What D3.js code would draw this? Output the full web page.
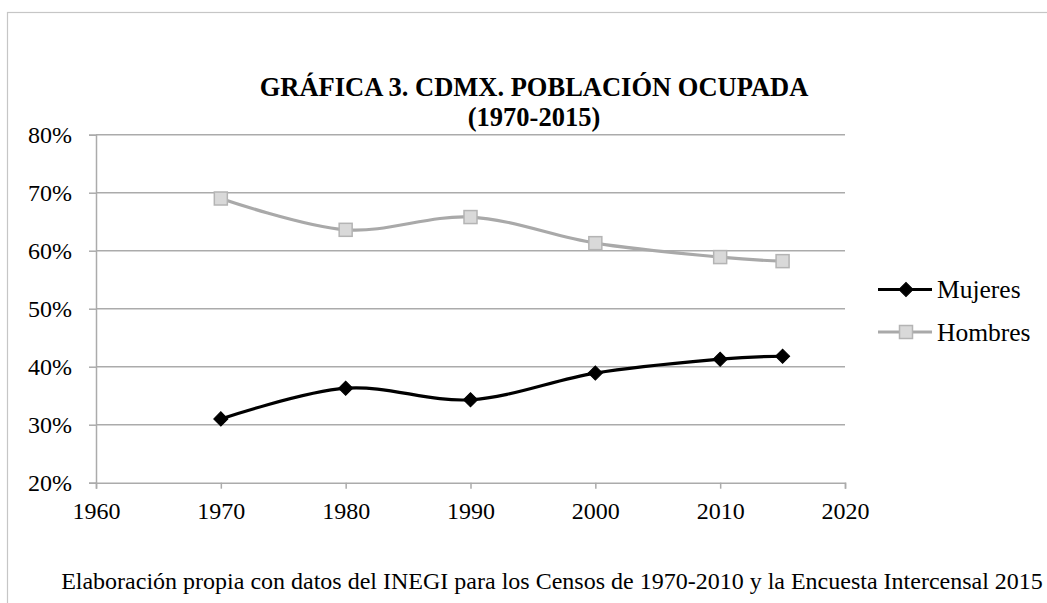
<!DOCTYPE html>
<html>
<head>
<meta charset="utf-8">
<script src="https://cdn.jsdelivr.net/npm/d3@7"></script>
<style>
  body { margin: 0; background: #fff; }
  svg text { font-family: "Liberation Serif", "Times New Roman", serif; fill: #000; }
</style>
</head>
<body>
<div id="chart"></div>
<script>
// data
const years = [1970, 1980, 1990, 2000, 2010, 2015];
const mujeres = [31.0, 36.3, 34.3, 38.9, 41.3, 41.8];
const hombres = [69.0, 63.6, 65.8, 61.3, 58.9, 58.2];
const xTicks = [1960, 1970, 1980, 1990, 2000, 2010, 2020];
const yTicks = [20, 30, 40, 50, 60, 70, 80];
const titleLines = ["GRÁFICA 3. CDMX. POBLACIÓN OCUPADA", "(1970-2015)"];
const seriesNames = ["Mujeres", "Hombres"];
const caption = "Elaboración propia con datos del INEGI para los Censos de 1970-2010 y la Encuesta Intercensal 2015";

let W = 1047, H = 603;
let plot = { left: 96, right: 845, top: 134.7, bottom: 482.7 };
let serif = "'Liberation Serif', 'Times New Roman', serif";

let svg = d3.select("#chart").append("svg")
  .attr("width", W)
  .attr("height", H);

// chart frame (cut off at right and bottom)
svg.append("rect")
  .attr("x", 7.5).attr("y", 12.5)
  .attr("width", W + 20).attr("height", H + 20)
  .attr("fill", "none")
  .attr("stroke", "#c6c6c6")
  .attr("stroke-width", 1.2);

let x = d3.scaleLinear().domain([1960, 2020]).range([plot.left, plot.right]);
let y = d3.scaleLinear().domain([20, 80]).range([plot.bottom, plot.top]);

// title
svg.selectAll(".title")
  .data(titleLines)
  .enter().append("text")
  .attr("class", "title")
  .attr("x", 534)
  .attr("y", function (d, i) { return i === 0 ? 96 : 126; })
  .attr("text-anchor", "middle")
  .style("font-weight", "bold")
  .style("font-size", "26.5px")
  .text(function (d) { return d; });

let g = svg.append("g");

// gridlines
g.selectAll(".grid")
  .data(yTicks.slice(1))
  .enter().append("line")
  .attr("x1", plot.left).attr("x2", plot.right)
  .attr("y1", function (d) { return y(d); })
  .attr("y2", function (d) { return y(d); })
  .attr("stroke", "#ababab")
  .attr("stroke-width", 1.5);

// y axis
let yAxis = g.append("g")
  .attr("transform", "translate(" + plot.left + ",0)")
  .call(d3.axisLeft(y).tickValues(yTicks).tickSize(7).tickPadding(17)
    .tickFormat(function (d) { return d + "%"; }));

// x axis
let xAxis = g.append("g")
  .attr("transform", "translate(0," + plot.bottom + ")")
  .call(d3.axisBottom(x).tickValues(xTicks).tickSize(6).tickPadding(13)
    .tickFormat(d3.format("d")));

[yAxis, xAxis].forEach(function (a) {
  a.attr("font-family", serif).attr("font-size", 24);
  a.select(".domain").attr("stroke", "#ababab").attr("stroke-width", 1.5);
  a.selectAll(".tick line").attr("stroke", "#ababab").attr("stroke-width", 1.5);
  a.selectAll("text")
    .style("font-family", serif)
    .style("font-size", "24px")
    .attr("fill", "#000");
});

// series
let series = [
  { name: seriesNames[0], values: mujeres, color: "#000000", marker: "diamond" },
  { name: seriesNames[1], values: hombres, color: "#a9a9a9", marker: "square" }
];

let line = d3.line()
  .x(function (d) { return x(d[0]); })
  .y(function (d) { return y(d[1]); })
  .curve(d3.curveCardinal.tension(0));

function drawMarker(sel, s) {
  if (s.marker === "diamond") {
    sel.append("path")
      .attr("d", d3.symbol().type(d3.symbolSquare).size(100)())
      .attr("fill", "#000")
      .attr("stroke", "#000")
      .attr("stroke-width", 1);
  } else {
    sel.append("rect")
      .attr("x", -6.5).attr("y", -6.5)
      .attr("width", 13).attr("height", 13)
      .attr("fill", "#d9d9d9")
      .attr("stroke", "#b4b4b4")
      .attr("stroke-width", 1.5);
  }
}

series.forEach(function (s) {
  let pts = years.map(function (yr, i) { return [yr, s.values[i]]; });
  g.append("path")
    .datum(pts)
    .attr("d", line)
    .attr("fill", "none")
    .attr("stroke", s.color)
    .attr("stroke-width", 3.2);

  let m = g.selectAll(".m-" + s.marker)
    .data(pts)
    .enter().append("g")
    .attr("class", "m-" + s.marker)
    .attr("transform", function (d) {
      return "translate(" + x(d[0]) + "," + y(d[1]) + ")" + (s.marker === "diamond" ? " rotate(45)" : "");
    });
  drawMarker(m, s);
});

// legend
let legend = svg.append("g");
series.forEach(function (s, i) {
  let ly = 289.5 + i * 42.5;
  legend.append("line")
    .attr("x1", 878).attr("x2", 932)
    .attr("y1", ly).attr("y2", ly)
    .attr("stroke", s.color)
    .attr("stroke-width", 3.2);
  let m = legend.append("g")
    .attr("transform", "translate(906," + ly + ")" + (s.marker === "diamond" ? " rotate(45)" : ""));
  drawMarker(m, s);
  legend.append("text")
    .attr("x", 937)
    .attr("y", ly + 8.5)
    .style("font-size", "25.5px")
    .text(s.name);
});

// source note
svg.append("text")
  .attr("x", 552)
  .attr("y", 589)
  .attr("text-anchor", "middle")
  .style("font-size", "24px")
  .text(caption);
</script>
</body>
</html>
